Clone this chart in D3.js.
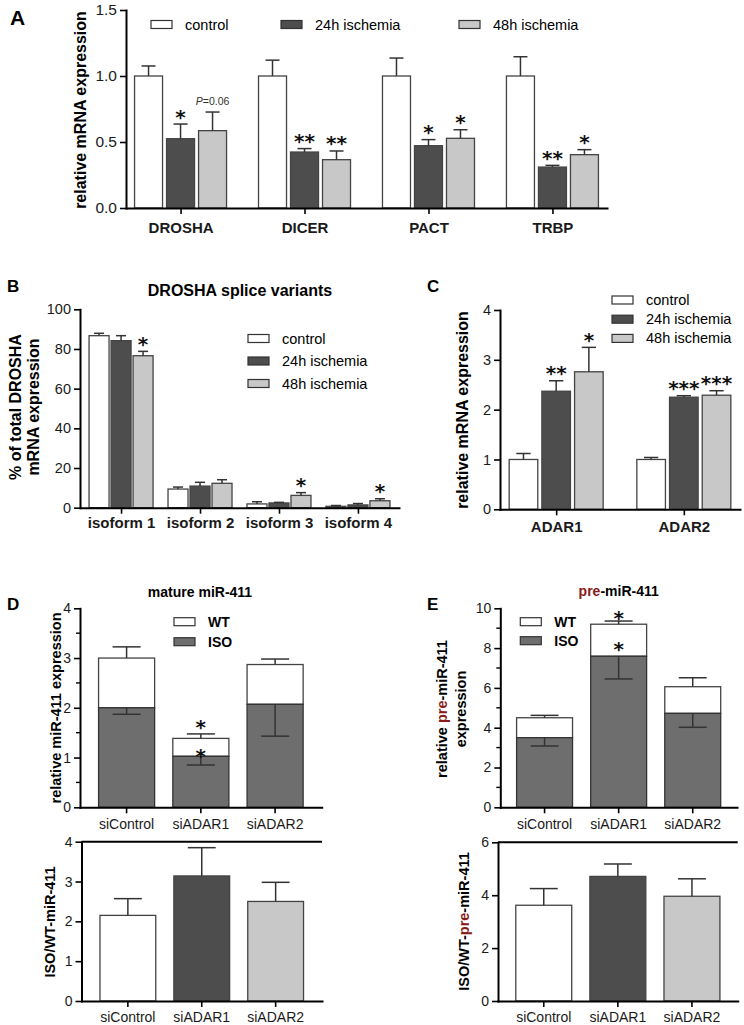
<!DOCTYPE html>
<html>
<head>
<meta charset="utf-8">
<script src="https://cdn.jsdelivr.net/npm/d3@7"></script>
<style>
  body { margin: 0; background: #fff; }
  svg { display: block; }
</style>
</head>
<body>
<script>
// ---- data ----
var groupNames = ["control", "24h ischemia", "48h ischemia"];

// panel A
var aGenes = ["DROSHA", "DICER", "PACT", "TRBP"];
var aControl = [1.0, 1.0, 1.0, 1.0];
var aControlErr = [0.076, 0.12, 0.136, 0.146];
var a24h = [0.525, 0.424, 0.472, 0.31];
var a24hErr = [0.111, 0.026, 0.046, 0.013];
var a48h = [0.586, 0.366, 0.528, 0.404];
var a48hErr = [0.141, 0.066, 0.065, 0.038];
var a24hStars = ["*", "**", "*", "**"];
var a48hStars = ["", "**", "*", "*"];
var aTicks = [0, 0.5, 1.0, 1.5];

// panel B
var bIsoforms = ["isoform 1", "isoform 2", "isoform 3", "isoform 4"];
var bControl = [86.7, 9.4, 1.9, 0.7];
var bControlErr = [1.2, 1.0, 1.1, 0.4];
var b24h = [84.2, 10.9, 2.4, 1.4];
var b24hErr = [2.5, 1.9, 0.3, 0.7];
var b48h = [76.6, 12.3, 6.2, 3.5];
var b48hErr = [2.2, 1.8, 1.4, 1.0];
var b48hStars = ["*", "", "*", "*"];
var bTicks = [0, 20, 40, 60, 80, 100];

// panel C
var cGenes = ["ADAR1", "ADAR2"];
var cControl = [1.0, 1.0];
var cControlErr = [0.12, 0.04];
var c24h = [2.37, 2.25];
var c24hErr = [0.21, 0.03];
var c48h = [2.76, 2.29];
var c48hErr = [0.49, 0.09];
var c24hStars = ["**", "***"];
var c48hStars = ["*", "***"];
var cTicks = [0, 1, 2, 3, 4];

// panels D and E
var siNames = ["siControl", "siADAR1", "siADAR2"];
var dIso = [2.0, 1.025, 2.07];
var dIsoErr = [0.13, 0.175, 0.64];
var dWt = [1.0, 0.36, 0.80];
var dWtErr = [0.225, 0.09, 0.11];
var dRatio = [2.15, 3.14, 2.5];
var dRatioErr = [0.42, 0.71, 0.48];
var dTicks = [0, 1, 2, 3, 4];
var dMinor = [0.5, 1.5, 2.5, 3.5];

var eIso = [3.5, 7.59, 4.72];
var eIsoErr = [0.42, 1.14, 0.70];
var eWt = [1.0, 1.61, 1.34];
var eWtErr = [0.12, 0.16, 0.45];
var eRatio = [3.62, 4.71, 3.96];
var eRatioErr = [0.63, 0.47, 0.66];
var eTicks = [0, 2, 4, 6, 8, 10];
var eMinor = [1, 3, 5, 7, 9];
var eRatioTicks = [0, 2, 4, 6];

// ---- styles ----
var FONT = '"Liberation Sans", Arial, Helvetica, sans-serif';
var STAR_FONT = '"DejaVu Sans", sans-serif';
var groupFills = ["#ffffff", "#4d4d4d", "#c8c8c8"];
var isoFill = "#6e6e6e";
var preRed = "#8b1a1a";

var svg = d3.select("body").append("svg")
  .attr("width", 744)
  .attr("height", 1025);

// ---- helpers ----
function styleAxis(ax, fs, bold) {
  ax.attr("font-family", null).attr("font-size", null);
  ax.select(".domain").attr("stroke", "#000").attr("stroke-width", 2).attr("stroke-linecap", "square");
  ax.selectAll(".tick line").attr("stroke", "#000").attr("stroke-width", 1.6);
  ax.selectAll(".tick text")
    .attr("font-family", FONT)
    .attr("font-size", fs)
    .attr("font-weight", bold ? "bold" : "normal")
    .attr("fill", "#1a1a1a");
}

function drawYAxis(xPix, y, ticks, fmt, fs, minor) {
  var ax = svg.append("g")
    .attr("transform", `translate(${xPix},0)`)
    .call(d3.axisLeft(y).tickValues(ticks).tickFormat(fmt).tickSize(6).tickSizeOuter(0).tickPadding(3));
  styleAxis(ax, fs, false);
  if (minor) {
    ax.selectAll(".minor").data(minor).enter().append("line")
      .attr("x1", -4).attr("x2", 0)
      .attr("y1", d => y(d)).attr("y2", d => y(d))
      .attr("stroke", "#000").attr("stroke-width", 1.4);
  }
}

function drawXAxis(x, yPix, fs, bold, pad) {
  var ax = svg.append("g")
    .attr("transform", `translate(0,${yPix})`)
    .call(d3.axisBottom(x).tickSize(6).tickSizeOuter(0).tickPadding(pad));
  styleAxis(ax, fs, bold);
}

function label(x, y, str, fs, opts) {
  opts = opts || {};
  return svg.append("text")
    .attr("x", x).attr("y", y)
    .attr("font-family", FONT)
    .attr("font-size", fs)
    .attr("font-weight", opts.bold ? "bold" : "normal")
    .attr("text-anchor", opts.anchor || "start")
    .attr("fill", opts.fill || "#000")
    .text(str);
}

// rotated axis title, parts = [[text, colour], ...]
function vlabel(x, y, parts, fs) {
  var t = svg.append("text")
    .attr("transform", `translate(${x},${y}) rotate(-90)`)
    .attr("text-anchor", "middle")
    .attr("font-family", FONT)
    .attr("font-size", fs)
    .attr("font-weight", "bold");
  parts.forEach(p => t.append("tspan").attr("fill", p[1] || "#000").text(p[0]));
}

// asterisks, bottom of the glyphs at bottomY
function star(x, bottomY, str) {
  if (!str) return;
  svg.append("text")
    .attr("x", x).attr("y", bottomY + 8)
    .attr("text-anchor", "middle")
    .attr("font-family", STAR_FONT)
    .attr("font-size", 20)
    .attr("font-weight", "bold")
    .attr("fill", "#111")
    .text(str);
}

function errBar(cx, yFrom, yTo, capW) {
  svg.append("line").attr("x1", cx).attr("x2", cx).attr("y1", yFrom).attr("y2", yTo)
    .attr("stroke", "#333").attr("stroke-width", 1.5);
  svg.append("line").attr("x1", cx - capW / 2).attr("x2", cx + capW / 2).attr("y1", yTo).attr("y2", yTo)
    .attr("stroke", "#333").attr("stroke-width", 1.5);
}

function legend(names, fills, x, y0, dy, fs, bold) {
  names.forEach(function(n, i) {
    var yy = y0 + i * dy;
    svg.append("rect").attr("x", x).attr("y", yy - 4).attr("width", 21).attr("height", 8)
      .attr("fill", fills[i]).attr("stroke", "#333").attr("stroke-width", 1.2);
    label(x + 34, yy + 5, n, fs, { bold: bold });
  });
}

function groupedChart(cfg) {
  var x = d3.scalePoint().domain(cfg.cats).range(cfg.xRange).padding(cfg.padding);
  var y = d3.scaleLinear().domain(cfg.yDomain).range(cfg.yRange);
  var inner = d3.scaleBand().domain(d3.range(cfg.series.length))
    .range([-cfg.groupW / 2, cfg.groupW / 2]).paddingInner(cfg.pi);
  var bw = inner.bandwidth();
  cfg.series.forEach(function(s, si) {
    cfg.cats.forEach(function(c, ci) {
      var bx = x(c) + inner(si);
      svg.append("rect")
        .attr("x", bx).attr("y", y(s.vals[ci]))
        .attr("width", bw).attr("height", y(0) - y(s.vals[ci]))
        .attr("fill", groupFills[si]).attr("stroke", "#444").attr("stroke-width", 1.3);
      var top = y(s.vals[ci] + s.errs[ci]);
      errBar(bx + bw / 2, y(s.vals[ci]), top, bw / 2);
      if (s.stars) star(bx + bw / 2, top - 8.5, s.stars[ci]);
    });
  });
  drawYAxis(cfg.xRange[0], y, cfg.ticks, cfg.fmt, cfg.tickFs, null);
  drawXAxis(x, cfg.yRange[0], cfg.catFs, true, cfg.catPad);
  return { x: x, y: y, inner: inner };
}

function stackedChart(cfg) {
  var x = d3.scaleBand().domain(siNames).range(cfg.xRange).paddingInner(0.245).paddingOuter(cfg.po);
  var y = d3.scaleLinear().domain(cfg.yDomain).range(cfg.yRange);
  var bw = x.bandwidth();
  siNames.forEach(function(n, i) {
    var bx = x(n), cx = bx + bw / 2;
    var total = cfg.iso[i] + cfg.wt[i];
    svg.append("rect").attr("x", bx).attr("y", y(total)).attr("width", bw).attr("height", y(cfg.iso[i]) - y(total))
      .attr("fill", "#fff").attr("stroke", "#444").attr("stroke-width", 1.3);
    svg.append("rect").attr("x", bx).attr("y", y(cfg.iso[i])).attr("width", bw).attr("height", y(0) - y(cfg.iso[i]))
      .attr("fill", isoFill).attr("stroke", "#333").attr("stroke-width", 1.3);
    errBar(cx, y(total), y(total + cfg.wtErr[i]), bw / 2);
    errBar(cx, y(cfg.iso[i]), y(cfg.iso[i] - cfg.isoErr[i]), bw / 2);
  });
  drawYAxis(cfg.xRange[0], y, cfg.ticks, d3.format("d"), 14, cfg.minor);
  drawXAxis(x, cfg.yRange[0], 14, false, 6);
  return { x: x, y: y };
}

function ratioChart(cfg) {
  var x = d3.scaleBand().domain(siNames).range(cfg.xRange).paddingInner(0.245).paddingOuter(cfg.po);
  var y = d3.scaleLinear().domain(cfg.yDomain).range(cfg.yRange);
  var bw = x.bandwidth();
  siNames.forEach(function(n, i) {
    var bx = x(n);
    svg.append("rect").attr("x", bx).attr("y", y(cfg.vals[i])).attr("width", bw).attr("height", y(0) - y(cfg.vals[i]))
      .attr("fill", groupFills[i]).attr("stroke", "#444").attr("stroke-width", 1.3);
    errBar(bx + bw / 2, y(cfg.vals[i]), y(cfg.vals[i] + cfg.errs[i]), bw / 2);
  });
  // frame line on top
  svg.append("line").attr("x1", cfg.xRange[0]).attr("x2", cfg.xRange[1])
    .attr("y1", cfg.yRange[1]).attr("y2", cfg.yRange[1]).attr("stroke", "#000").attr("stroke-width", 2);
  drawYAxis(cfg.xRange[0], y, cfg.ticks, d3.format("d"), 14, null);
  drawXAxis(x, cfg.yRange[0], 14, false, 5);
}

// ---- panel A ----
var A = groupedChart({
  cats: aGenes, xRange: [126, 607], padding: 0.44, groupW: 92, pi: 0.125,
  yDomain: [0, 1.5], yRange: [208, 10], ticks: aTicks, fmt: d3.format(".1f"),
  tickFs: 15.5, catFs: 15, catPad: 8,
  series: [
    { vals: aControl, errs: aControlErr },
    { vals: a24h, errs: a24hErr, stars: a24hStars },
    { vals: a48h, errs: a48hErr, stars: a48hStars }
  ]
});
// P value label above the 48h DROSHA bar
var pX = A.x("DROSHA") + A.inner(2) + A.inner.bandwidth() / 2;
var pText = svg.append("text").attr("x", pX).attr("y", A.y(a48h[0] + a48hErr[0]) - 7)
  .attr("text-anchor", "middle").attr("font-family", FONT).attr("font-size", 10.5).attr("fill", "#333");
pText.append("tspan").attr("font-style", "italic").text("P");
pText.append("tspan").text("=0.06");

label(10, 25, "A", 21, { bold: true });
vlabel(86, 110, [["relative mRNA expression"]], 16);
[151, 281, 459].forEach(function(lx, i) {
  svg.append("rect").attr("x", lx).attr("y", 20.5).attr("width", 21).attr("height", 8)
    .attr("fill", groupFills[i]).attr("stroke", "#333").attr("stroke-width", 1.2);
  label(lx + 34, 29.5, groupNames[i], 14.5);
});

// ---- panel B ----
groupedChart({
  cats: bIsoforms, xRange: [80, 399], padding: 0.52, groupW: 64, pi: 0.091,
  yDomain: [0, 100], yRange: [507.7, 309.3], ticks: bTicks, fmt: d3.format("d"),
  tickFs: 14.5, catFs: 15, catPad: 4,
  series: [
    { vals: bControl, errs: bControlErr },
    { vals: b24h, errs: b24hErr },
    { vals: b48h, errs: b48hErr, stars: b48hStars }
  ]
});
label(7, 292, "B", 17, { bold: true });
label(240, 296, "DROSHA splice variants", 16, { bold: true, anchor: "middle" });
vlabel(21, 407, [["% of total DROSHA"]], 16);
vlabel(39, 407, [["mRNA expression"]], 16);
legend(groupNames, groupFills, 248, 338.5, 22.5, 14.5, false);

// ---- panel C ----
groupedChart({
  cats: cGenes, xRange: [500, 740], padding: 0.44, groupW: 94, pi: 0.125,
  yDomain: [0, 4], yRange: [509.3, 310], ticks: cTicks, fmt: d3.format("d"),
  tickFs: 14.5, catFs: 15, catPad: 6,
  series: [
    { vals: cControl, errs: cControlErr },
    { vals: c24h, errs: c24hErr, stars: c24hStars },
    { vals: c48h, errs: c48hErr, stars: c48hStars }
  ]
});
label(427, 292, "C", 17, { bold: true });
vlabel(468, 410, [["relative mRNA expression"]], 16);
legend(groupNames, groupFills, 612, 300, 19.2, 14.5, false);

// ---- panel D ----
var D = stackedChart({
  iso: dIso, isoErr: dIsoErr, wt: dWt, wtErr: dWtErr,
  xRange: [80, 321.7], po: 0.25, yDomain: [0, 4], yRange: [807.3, 608.3],
  ticks: dTicks, minor: dMinor
});
var dCx = D.x("siADAR1") + D.x.bandwidth() / 2;
star(dCx, D.y(dIso[1] + dWt[1] + dWtErr[1]) - 7.5, "*");
star(dCx, (D.y(dIso[1]) + D.y(dIso[1] + dWt[1])) / 2 + 8, "*");
label(7, 610, "D", 17, { bold: true });
label(200, 597, "mature miR-411", 14, { bold: true, anchor: "middle" });
vlabel(61, 708, [["relative miR-411 expression"]], 14.5);
legend(["WT", "ISO"], ["#fff", isoFill], 174, 621.7, 20, 14, true);

ratioChart({
  vals: dRatio, errs: dRatioErr, xRange: [81.5, 322], po: 0.25,
  yDomain: [0, 4], yRange: [1001, 841.7], ticks: dTicks
});
vlabel(55, 922, [["ISO/WT-miR-411"]], 14.5);

// ---- panel E ----
var E = stackedChart({
  iso: eIso, isoErr: eIsoErr, wt: eWt, wtErr: eWtErr,
  xRange: [500.3, 737], po: 0.22, yDomain: [0, 10], yRange: [807.3, 608.3],
  ticks: eTicks, minor: eMinor
});
var eCx = E.x("siADAR1") + E.x.bandwidth() / 2;
star(eCx, E.y(eIso[1] + eWt[1] + eWtErr[1]) - 4, "*");
star(eCx, (E.y(eIso[1]) + E.y(eIso[1] + eWt[1])) / 2 + 8, "*");
label(427, 610, "E", 17, { bold: true });
var eTitle = svg.append("text").attr("x", 618.7).attr("y", 596).attr("text-anchor", "middle")
  .attr("font-family", FONT).attr("font-size", 14).attr("font-weight", "bold");
eTitle.append("tspan").attr("fill", preRed).text("pre");
eTitle.append("tspan").attr("fill", "#000").text("-miR-411");
vlabel(447, 709, [["relative "], ["pre", preRed], ["-miR-411"]], 14.5);
vlabel(466, 709, [["expression"]], 14.5);
legend(["WT", "ISO"], ["#fff", isoFill], 520.3, 621.7, 19, 14, true);

ratioChart({
  vals: eRatio, errs: eRatioErr, xRange: [498, 737.7], po: 0.24,
  yDomain: [0, 6], yRange: [1001, 842.3], ticks: eRatioTicks
});
vlabel(469, 921.5, [["ISO/WT-"], ["pre", preRed], ["-miR-411"]], 14.5);
</script>
</body>
</html>
